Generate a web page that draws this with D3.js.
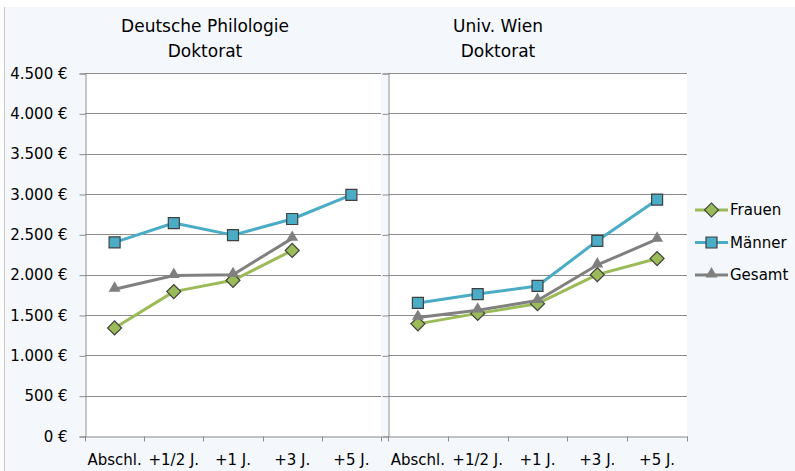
<!DOCTYPE html>
<html>
<head>
<meta charset="utf-8">
<script src="https://cdn.jsdelivr.net/npm/d3@7"></script>
<style>
  body { margin: 0; background: #ffffff; }
  svg { display: block; font-family: "DejaVu Sans", sans-serif; }
</style>
</head>
<body>
<div id="chart"></div>
<script>
// data
var categories = ['Abschl.', '+1/2 J.', '+1 J.', '+3 J.', '+5 J.'];
var yTicks = [0, 500, 1000, 1500, 2000, 2500, 3000, 3500, 4000, 4500];
var seriesNames = ['Frauen', 'Männer', 'Gesamt'];

var philFrauen = [1340, 1790, 1930, 2300, null];
var philMaenner = [2400, 2640, 2490, 2690, 2990];
var philGesamt = [1820, 1990, 2000, 2450, null];

var wienFrauen = [1390, 1520, 1640, 2000, 2200];
var wienMaenner = [1650, 1760, 1860, 2420, 2930];
var wienGesamt = [1470, 1560, 1680, 2120, 2440];

var philTitle = ['Deutsche Philologie', 'Doktorat'];
var wienTitle = ['Univ. Wien', 'Doktorat'];

// colours per series
var color = d3.scaleOrdinal()
  .domain(seriesNames)
  .range(['#9bbb59', '#4bacc6', '#7f7f7f']);
var lineColor = d3.scaleOrdinal()
  .domain(seriesNames)
  .range(['#9bbb59', '#4bacc6', '#808080']);

var width = 795, height = 471;
var plotTop = 73, plotBottom = 436;
var font = '"DejaVu Sans", sans-serif';

var de = d3.formatLocale({decimal: ',', thousands: '.', grouping: [3], currency: ['', ' €']});
var fmt = de.format(',');

var svg = d3.select('#chart')
  .append('svg')
  .attr('width', width)
  .attr('height', height);

// background
svg.append('rect')
  .attr('x', 4).attr('y', 7)
  .attr('width', width - 4).attr('height', height - 7)
  .style('fill', '#f4f7fc');
svg.append('line')
  .attr('x1', 4.5).attr('x2', 4.5).attr('y1', 7).attr('y2', height)
  .style('stroke', '#c8c8c8');

var y = d3.scaleLinear()
  .domain([0, 4500])
  .range([plotBottom, plotTop]);

function marker(name) {
  if (name === 'Frauen') return d3.symbol().type(d3.symbolSquare).size(98)();
  if (name === 'Männer') return d3.symbol().type(d3.symbolSquare).size(121)();
  return d3.symbol().type(d3.symbolTriangle).size(62)();
}
function markerTransform(name, px, py) {
  var t = 'translate(' + px + ',' + py + ')';
  if (name === 'Frauen') t += ' rotate(45)';
  if (name === 'Gesamt') t += ' translate(0,-1)';
  return t;
}

function panel(x0, x1, title, titleX, series, showLabels) {
  var x = d3.scaleBand()
    .domain(categories)
    .range([x0, x1]);
  var g = svg.append('g');

  g.append('rect')
    .attr('x', x0).attr('y', plotTop)
    .attr('width', x1 - x0).attr('height', plotBottom - plotTop)
    .style('fill', '#ffffff');

  // gridlines
  g.selectAll('.grid')
    .data(yTicks.filter(function(d) { return d > 0; }))
    .enter().append('line')
    .attr('x1', x0).attr('x2', x1)
    .attr('y1', function(d) { return Math.round(y(d)) + 0.5; })
    .attr('y2', function(d) { return Math.round(y(d)) + 0.5; })
    .style('stroke', '#8c8c8c');

  // y axis
  var yAxis = g.append('g')
    .attr('transform', 'translate(' + (x0 + 0.5) + ',0.5)')
    .call(d3.axisLeft(y).tickValues(yTicks).tickSize(6).tickPadding(12)
      .tickFormat(function(d) { return showLabels ? fmt(d) + ' €' : ''; }))
    .attr('font-family', font)
    .attr('font-size', 15);
  yAxis.select('.domain').style('stroke', '#8c8c8c');
  yAxis.selectAll('.tick line').style('stroke', '#8c8c8c');
  yAxis.selectAll('text').style('fill', '#000');

  // x axis: labels at band centres, ticks at band borders
  var xAxis = g.append('g')
    .attr('transform', 'translate(0,' + (plotBottom + 0.5) + ')')
    .call(d3.axisBottom(x).tickSize(0).tickPadding(18))
    .attr('font-family', font)
    .attr('font-size', 15);
  xAxis.select('.domain').style('stroke', '#8c8c8c');
  xAxis.selectAll('text').style('fill', '#000');
  var borders = categories.map(function(c) { return x(c); }).concat([x1]);
  xAxis.selectAll('.border')
    .data(borders)
    .enter().append('line')
    .attr('x1', function(d) { return Math.round(d) + 0.5; })
    .attr('x2', function(d) { return Math.round(d) + 0.5; })
    .attr('y1', 0).attr('y2', 5)
    .style('stroke', '#8c8c8c');

  // title
  g.selectAll('.title')
    .data(title)
    .enter().append('text')
    .attr('x', titleX)
    .attr('y', function(d, i) { return 32 + i * 25; })
    .style('text-anchor', 'middle')
    .style('font-size', '17px')
    .text(function(d) { return d; });

  var line = d3.line()
    .defined(function(d) { return d != null; })
    .x(function(d, i) { return x(categories[i]) + x.bandwidth() / 2; })
    .y(function(d) { return y(d); });

  series.forEach(function(s) {
    g.append('path')
      .attr('d', line(s.values))
      .style('fill', 'none')
      .style('stroke', lineColor(s.name))
      .style('stroke-width', 3)
      .style('stroke-linejoin', 'round');
    g.selectAll('.m')
      .data(s.values.map(function(v, i) { return {v: v, i: i}; })
        .filter(function(d) { return d.v != null; }))
      .enter().append('path')
      .attr('d', marker(s.name))
      .attr('transform', function(d) {
        return markerTransform(s.name, x(categories[d.i]) + x.bandwidth() / 2, y(d.v));
      })
      .style('fill', color(s.name))
      .style('stroke', s.name === 'Gesamt' ? 'none' : '#404040')
      .style('stroke-width', 1.2);
  });
}

panel(85, 381, philTitle, 205, [
  {name: 'Frauen', values: philFrauen},
  {name: 'Männer', values: philMaenner},
  {name: 'Gesamt', values: philGesamt}
], true);

panel(388, 687, wienTitle, 498, [
  {name: 'Frauen', values: wienFrauen},
  {name: 'Männer', values: wienMaenner},
  {name: 'Gesamt', values: wienGesamt}
], false);

// legend
var legend = svg.selectAll('.legend')
  .data(seriesNames)
  .enter().append('g')
  .attr('transform', function(d, i) { return 'translate(695,' + (210 + i * 32.5) + ')'; });
legend.append('line')
  .attr('x1', 0).attr('x2', 33)
  .style('stroke', function(d) { return lineColor(d); })
  .style('stroke-width', 3);
legend.append('path')
  .attr('d', function(d) { return marker(d); })
  .attr('transform', function(d) { return markerTransform(d, 16.5, 0); })
  .style('fill', function(d) { return color(d); })
  .style('stroke', function(d) { return d === 'Gesamt' ? 'none' : '#404040'; })
  .style('stroke-width', 1.2);
legend.append('text')
  .attr('x', 35)
  .attr('dy', '0.36em')
  .style('font-size', '15px')
  .text(function(d) { return d; });
</script>
</body>
</html>
